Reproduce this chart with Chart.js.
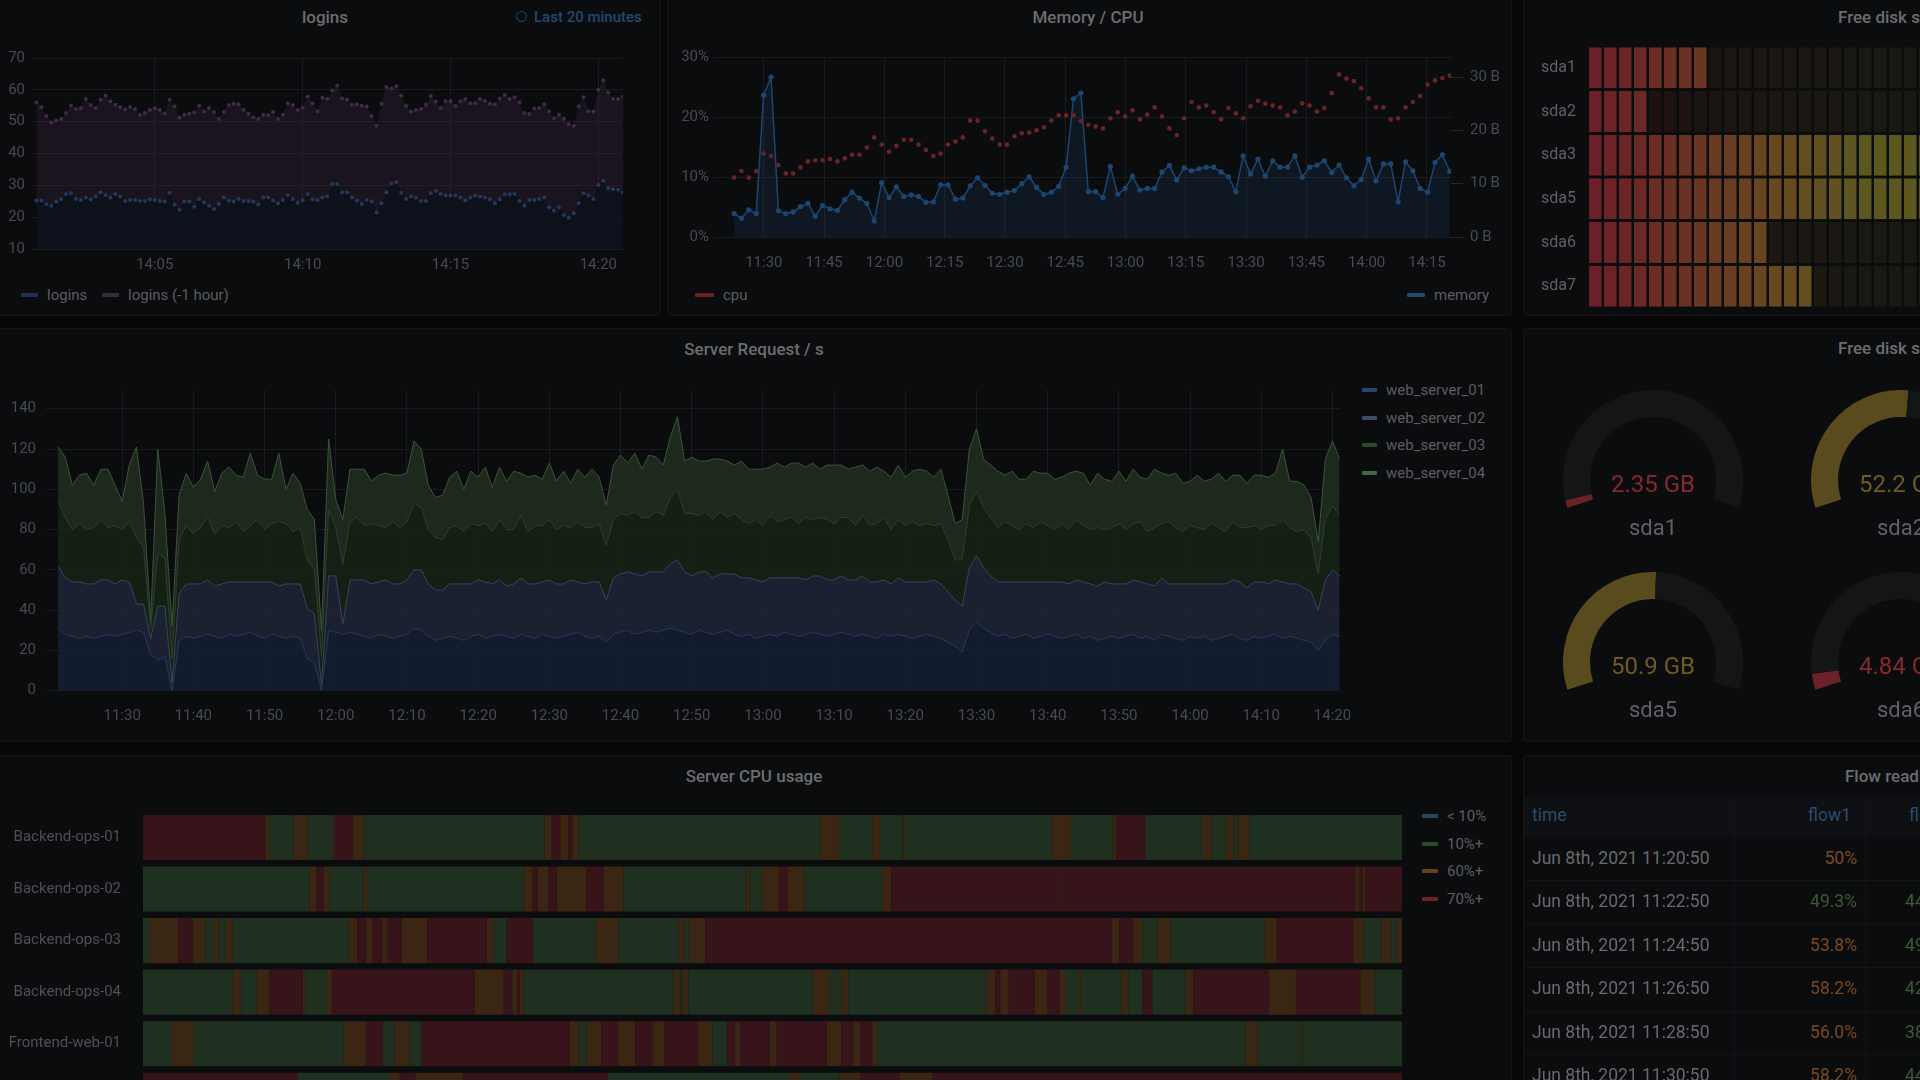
<!DOCTYPE html>
<html>
<head>
<meta charset="utf-8">
<title>Dashboard</title>
<script src="https://cdn.jsdelivr.net/npm/chart.js@4.4.1/dist/chart.umd.min.js"></script>
<style>
  html, body { margin:0; padding:0; width:1920px; height:1080px; overflow:hidden; background:#070708; font-family: Roboto, "Noto Sans", sans-serif; }
  .panel { position:absolute; background:#0b0c0e; border:1px solid #131418; border-radius:3px; box-sizing:border-box; }
  canvas { position:absolute; }
  .txt { position:absolute; white-space:nowrap; line-height:1; }
  .sw { position:absolute; height:4px; border-radius:1px; }
  .hline { position:absolute; height:1px; background:#131418; }
  .vline { position:absolute; width:1px; background:#131418; }
</style>
</head>
<body>
<script>
// ---------- logins (10 s samples from 14:01:00)
const loginsStart = 14 * 60 + 1;
const loginsStep = 10 / 60;
const logins = [
  25.2, 25.2, 24.1, 23.6, 24.9, 25.7, 27.3, 27.5, 25.7, 25.4,
  26.2, 25.6, 26.5, 27.8, 27.0, 26.2, 27.3, 26.5, 25.1, 25.4,
  25.4, 25.1, 25.1, 25.6, 25.4, 25.1, 24.9, 27.7, 24.0, 22.3,
  24.9, 24.9, 23.3, 25.7, 24.7, 23.6, 22.6, 24.1, 26.2, 25.2,
  24.9, 25.7, 25.1, 25.1, 24.9, 24.0, 26.2, 26.2, 25.2, 24.4,
  25.4, 27.0, 25.7, 24.5, 25.4, 27.3, 25.6, 25.4, 26.2, 26.5,
  30.4, 30.4, 27.8, 27.8, 26.2, 25.2, 24.1, 25.4, 24.9, 21.5,
  24.4, 27.8, 30.6, 31.0, 27.7, 25.7, 26.5, 26.1, 25.1, 25.1,
  27.5, 28.2, 27.3, 26.8, 26.8, 26.8, 26.2, 25.2, 26.2, 26.7,
  26.5, 26.2, 25.6, 24.4, 25.6, 27.2, 27.2, 27.3, 25.1, 23.6,
  25.4, 25.4, 25.7, 26.2, 23.1, 22.0, 23.1, 20.7, 19.8, 21.2,
  24.4, 27.5, 26.8, 25.7, 30.1, 31.4, 29.1, 28.8, 28.6, 27.8
];
const loginsPrevHour = [
  56.1, 54.5, 51.8, 49.7, 50.4, 50.9, 52.7, 55.1, 54.0, 54.2,
  57.1, 55.2, 54.3, 56.9, 58.2, 56.4, 55.3, 54.6, 53.8, 54.6,
  54.0, 52.1, 52.7, 53.7, 54.2, 53.7, 52.6, 56.9, 54.8, 51.2,
  52.2, 52.5, 52.9, 55.0, 53.2, 54.3, 53.0, 50.8, 53.0, 55.2,
  55.6, 55.5, 53.7, 52.5, 51.4, 50.8, 52.1, 52.1, 53.0, 50.8,
  52.2, 55.8, 55.2, 53.7, 54.4, 57.9, 55.7, 53.3, 57.5, 57.2,
  59.8, 61.4, 57.3, 56.9, 55.3, 55.5, 55.0, 54.8, 51.8, 48.7,
  55.6, 60.9, 60.4, 61.1, 58.2, 55.0, 53.2, 53.7, 54.0, 55.3,
  58.1, 56.3, 54.2, 56.4, 56.4, 54.9, 56.4, 57.1, 55.8, 55.8,
  57.1, 56.6, 55.6, 55.5, 57.3, 58.4, 57.1, 57.7, 56.1, 52.7,
  52.5, 54.1, 54.3, 55.5, 53.2, 51.1, 52.2, 50.9, 49.3, 48.7,
  54.8, 57.7, 53.3, 53.2, 60.0, 63.0, 59.2, 57.2, 57.1, 57.9
];
const loginsTicks = [845, 850, 855, 860];

// ---------- Memory / CPU
const memStart = 11 * 60 + 22.6;
const memStep = 1.836;
const cpuPct = [
  9.9, 11.0, 9.9, 11.0, 13.9, 13.5, 12.0, 10.6, 10.6, 11.6,
  12.6, 12.8, 12.8, 13.0, 12.6, 13.1, 13.7, 13.7, 14.9, 16.6,
  15.4, 14.2, 15.2, 16.2, 16.2, 15.4, 14.5, 13.5, 13.9, 15.4,
  15.9, 16.6, 19.4, 19.4, 17.6, 16.4, 15.4, 15.4, 16.8, 17.3,
  17.4, 17.8, 18.3, 19.4, 20.3, 20.3, 20.3, 19.3, 18.7, 18.4,
  18.1, 19.8, 20.8, 20.1, 21.1, 19.6, 20.4, 21.6, 20.1, 18.1,
  17.0, 19.8, 22.5, 21.6, 21.9, 20.8, 19.6, 21.5, 20.6, 19.8,
  21.8, 22.7, 22.2, 21.9, 21.6, 20.3, 20.9, 22.3, 21.9, 20.9,
  21.5, 24.0, 27.1, 26.4, 26.0, 24.8, 23.1, 21.6, 21.6, 19.6,
  19.8, 21.6, 22.5, 23.5, 25.4, 26.1, 26.5, 26.9
];
const memBytes = [
  4.4, 3.5, 5.1, 4.4, 26.6, 30.0, 4.9, 4.4, 4.7, 5.7,
  6.3, 3.9, 5.9, 5.3, 5.0, 7.0, 8.4, 7.3, 6.3, 3.0,
  10.2, 7.4, 9.4, 7.6, 7.9, 7.6, 6.5, 6.6, 9.8, 9.8,
  7.1, 7.3, 9.6, 11.1, 9.7, 8.2, 8.0, 8.4, 8.7, 10.0,
  11.3, 9.3, 8.0, 8.4, 9.5, 13.1, 25.9, 27.0, 8.5, 8.5,
  7.4, 13.2, 8.0, 9.1, 11.4, 8.8, 9.1, 9.1, 12.2, 13.4,
  10.7, 13.0, 12.4, 12.8, 13.1, 13.1, 12.2, 11.3, 8.5, 15.2,
  11.8, 14.6, 11.4, 14.3, 13.1, 13.1, 15.2, 11.2, 13.1, 13.5,
  14.3, 12.1, 13.5, 11.1, 9.6, 10.8, 14.6, 10.5, 13.7, 13.7,
  6.6, 14.1, 12.4, 9.1, 8.4, 14.0, 15.4, 12.3
];
const memTicks = [690, 705, 720, 735, 750, 765, 780, 795, 810, 825, 840, 855];
const pctTicks = [0, 10, 20, 30];
const byteTicks = [0, 10, 20, 30];

// ---------- Free disk space (bar gauge, lit cells per disk)
const diskNames = ['sda1', 'sda2', 'sda3', 'sda5', 'sda6', 'sda7'];
const diskLitCells = [8, 4, 40, 38, 12, 15];
const diskCellCount = 48;

// ---------- Server Request / s (1 min samples from 11:21)
const reqStart = 11 * 60 + 21;
const web01 = [
  31, 28, 27, 26, 27, 26, 27, 28, 27, 28, 29, 30, 29, 18, 15, 17, 0, 25, 27, 26,
  27, 28, 27, 26, 28, 27, 28, 29, 27, 26, 28, 27, 26, 27, 26, 16, 14, 0, 30, 29,
  28, 29, 28, 27, 26, 28, 27, 26, 27, 28, 31, 30, 27, 25, 26, 27, 26, 25, 27, 28,
  26, 27, 28, 27, 26, 28, 27, 26, 28, 27, 26, 27, 28, 29, 27, 26, 27, 24, 28, 29,
  30, 28, 29, 30, 29, 30, 31, 30, 29, 28, 30, 29, 28, 29, 30, 28, 27, 28, 26, 27,
  28, 27, 29, 28, 27, 28, 29, 28, 27, 28, 29, 28, 27, 28, 27, 26, 28, 27, 28, 27,
  26, 27, 28, 27, 26, 24, 22, 19, 30, 34, 31, 29, 27, 28, 26, 27, 28, 26, 27, 28,
  27, 26, 27, 28, 26, 27, 25, 26, 27, 26, 27, 28, 26, 27, 25, 28, 27, 26, 25, 27,
  26, 27, 25, 26, 27, 28, 26, 25, 27, 26, 27, 28, 26, 27, 26, 25, 24, 20, 25, 28,
  27
];
const web02 = [
  31, 28, 27, 28, 26, 27, 28, 27, 26, 27, 25, 13, 14, 8, 27, 25, 4, 23, 26, 27,
  26, 27, 25, 27, 26, 27, 26, 25, 27, 28, 26, 25, 27, 26, 27, 25, 24, 3, 27, 28,
  5, 26, 27, 28, 27, 26, 28, 27, 26, 27, 29, 30, 26, 25, 24, 26, 27, 28, 26, 27,
  28, 26, 27, 25, 27, 28, 26, 27, 26, 28, 27, 26, 27, 25, 26, 28, 27, 21, 28, 29,
  29, 30, 28, 29, 30, 29, 32, 35, 30, 29, 29, 30, 28, 29, 28, 30, 29, 28, 29, 27,
  28, 29, 27, 28, 29, 27, 28, 29, 28, 27, 28, 27, 28, 29, 27, 28, 27, 26, 28, 27,
  28, 27, 26, 28, 27, 25, 23, 23, 31, 33, 30, 28, 27, 26, 28, 27, 26, 28, 27, 26,
  27, 28, 26, 27, 28, 26, 27, 28, 26, 27, 26, 27, 28, 26, 27, 28, 26, 27, 28, 26,
  27, 26, 28, 27, 26, 27, 28, 26, 27, 28, 26, 27, 28, 26, 27, 26, 25, 20, 30, 32,
  30
];
const web03 = [
  32, 30, 26, 29, 27, 28, 30, 26, 29, 25, 30, 33, 28, 5, 26, 24, 12, 27, 29, 25,
  28, 31, 26, 29, 27, 30, 25, 28, 31, 26, 29, 32, 30, 26, 28, 24, 22, 14, 33, 24,
  30, 29, 31, 27, 30, 28, 26, 31, 28, 29, 33, 31, 27, 26, 25, 28, 29, 26, 30, 27,
  29, 26, 30, 28, 27, 31, 26, 29, 28, 30, 27, 29, 26, 30, 28, 27, 29, 27, 29, 30,
  28, 31, 29, 27, 30, 28, 33, 35, 29, 31, 28, 30, 29, 31, 28, 30, 29, 27, 30, 28,
  31, 28, 29, 30, 27, 31, 28, 29, 30, 28, 29, 31, 27, 30, 28, 29, 31, 27, 29, 28,
  30, 28, 29, 27, 30, 26, 20, 23, 31, 32, 30, 29, 27, 30, 28, 26, 29, 27, 30, 28,
  26, 29, 27, 30, 28, 27, 29, 26, 28, 30, 27, 28, 30, 26, 29, 27, 31, 28, 26, 29,
  28, 27, 30, 28, 26, 29, 27, 30, 28, 26, 29, 27, 31, 28, 26, 29, 27, 18, 30, 32,
  30
];
const web04 = [
  27, 30, 22, 24, 28, 21, 25, 29, 20, 14, 28, 45, 22, 4, 52, 22, 16, 22, 26, 23,
  24, 28, 21, 26, 30, 23, 27, 36, 22, 25, 22, 34, 17, 29, 22, 25, 25, 13, 35, 14,
  22, 26, 24, 28, 21, 25, 27, 23, 26, 24, 31, 29, 22, 20, 22, 25, 27, 21, 26, 24,
  28, 22, 26, 24, 29, 21, 27, 25, 23, 28, 24, 27, 22, 26, 25, 29, 23, 20, 27, 29,
  26, 29, 24, 31, 27, 25, 30, 36, 26, 28, 27, 25, 30, 26, 28, 24, 29, 27, 25, 28,
  24, 29, 26, 27, 30, 25, 28, 24, 27, 29, 26, 24, 29, 25, 27, 28, 23, 26, 27, 24,
  25, 28, 26, 24, 27, 22, 18, 20, 28, 31, 24, 26, 28, 23, 27, 25, 22, 28, 24, 26,
  25, 23, 28, 24, 26, 22, 27, 25, 23, 26, 24, 27, 22, 26, 29, 25, 23, 27, 24, 22,
  26, 24, 22, 27, 25, 23, 26, 22, 25, 27, 24, 26, 35, 23, 25, 22, 20, 16, 30, 32,
  28
];
const reqSeriesNames = ['web_server_01', 'web_server_02', 'web_server_03', 'web_server_04'];
const reqTicks = [690, 700, 710, 720, 730, 740, 750, 760, 770, 780, 790, 800, 810, 820, 830, 840, 850, 860];
const reqYTicks = [0, 20, 40, 60, 80, 100, 120, 140];

// ---------- gauges
const gaugeNames = ['sda1', 'sda2', 'sda5', 'sda6'];
const gaugeValues = [2.35, 52.2, 50.9, 4.84];
const gaugeMax = 100;

// ---------- Server CPU usage (state segments: [start minute, state])
const cpuHosts = ['Backend-ops-01', 'Backend-ops-02', 'Backend-ops-03', 'Backend-ops-04', 'Frontend-web-01', 'Frontend-web-02'];
const cpuSegments = [
  [[0,'r'],[17.3,'o'],[17.9,'g'],[21.3,'o'],[23.3,'g'],[26.8,'o'],[27.1,'r'],[29.7,'o'],[31.3,'g'],[56.8,'o'],[57.8,'r'],[59.0,'o'],[60.1,'r'],[60.7,'o'],[61.6,'g'],[95.7,'o'],[98.4,'g'],[103.1,'o'],[104.2,'g'],[107.2,'o'],[107.5,'g'],[128.5,'o'],[131.2,'g'],[137.1,'o'],[137.6,'r'],[141.7,'g'],[149.7,'o'],[151.1,'g'],[153.1,'o'],[154.2,'g'],[154.7,'o'],[156.4,'g']],
  [[0,'g'],[23.5,'o'],[24.5,'r'],[25.5,'o'],[26.4,'g'],[31.2,'o'],[31.8,'g'],[53.8,'o'],[55.1,'r'],[55.8,'o'],[57.3,'r'],[58.5,'o'],[62.7,'r'],[65.1,'o'],[67.9,'g'],[85.3,'o'],[85.8,'g'],[87.5,'o'],[89.9,'r'],[91.2,'o'],[93.5,'g'],[104.5,'o'],[105.8,'r'],[129.4,'o'],[129.6,'r'],[171.4,'o'],[172.0,'r'],[172.4,'o'],[172.8,'r']],
  [[0,'g'],[1.0,'o'],[5.0,'r'],[7.0,'o'],[8.8,'g'],[9.9,'o'],[10.7,'g'],[11.7,'o'],[12.7,'g'],[29.1,'o'],[30.3,'r'],[31.5,'o'],[32.4,'r'],[33.8,'o'],[34.6,'r'],[36.6,'o'],[40.2,'r'],[48.6,'o'],[49.6,'g'],[51.4,'r'],[55.1,'g'],[64.0,'o'],[67.2,'g'],[75.7,'o'],[76.6,'g'],[77.3,'o'],[79.5,'r'],[136.9,'o'],[138.0,'r'],[140.0,'o'],[141.3,'g'],[143.4,'o'],[145.3,'g'],[158.6,'o'],[160.3,'r'],[171.1,'o'],[172.6,'g'],[175.1,'o'],[176.4,'g'],[177.2,'o']],
  [[0,'g'],[12.7,'o'],[13.9,'g'],[16.1,'o'],[17.8,'r'],[22.6,'o'],[23.0,'g'],[26.0,'o'],[26.7,'r'],[46.9,'o'],[51.0,'r'],[52.2,'o'],[52.9,'r'],[53.3,'o'],[53.8,'g'],[75.0,'o'],[76.0,'g'],[76.3,'o'],[77.1,'g'],[94.7,'o'],[97.0,'g'],[98.7,'o'],[99.7,'g'],[119.3,'o'],[120.5,'r'],[121.2,'o'],[122.4,'r'],[126.1,'o'],[127.8,'r'],[129.6,'o'],[130.5,'g'],[132.2,'o'],[132.6,'g'],[138.3,'o'],[139.3,'g'],[141.3,'r'],[142.7,'g'],[147.4,'o'],[148.5,'r'],[159.2,'o'],[163.0,'r'],[172.1,'o'],[174.1,'g']],
  [[0,'g'],[4.1,'o'],[7.2,'g'],[28.4,'o'],[31.5,'r'],[33.9,'g'],[35.6,'o'],[37.7,'g'],[39.4,'r'],[60.3,'o'],[61.6,'g'],[62.7,'o'],[64.8,'r'],[67.2,'o'],[69.6,'r'],[72.0,'o'],[73.7,'r'],[78.5,'o'],[80.5,'g'],[82.6,'r'],[83.7,'o'],[84.4,'r'],[88.6,'o'],[89.6,'r'],[96.7,'o'],[98.7,'r'],[100.4,'o'],[101.4,'r'],[103.1,'o'],[103.8,'g'],[155.9,'o'],[157.6,'g'],[163.6,'o'],[163.9,'g']],
  [[0,'r'],[21.9,'g'],[34.9,'o'],[36.3,'r'],[38.5,'o'],[45.2,'r'],[65.7,'g'],[91.6,'o'],[92.9,'g'],[98.5,'o'],[101.4,'r'],[107.0,'o'],[111.6,'r']]
];
const cpuSpan = 178;
const cpuLegend = ['< 10%', '10%+', '60%+', '70%+'];

// ---------- Flow readings table
const flowTimes = ['Jun 8th, 2021 11:20:50', 'Jun 8th, 2021 11:22:50', 'Jun 8th, 2021 11:24:50',
                   'Jun 8th, 2021 11:26:50', 'Jun 8th, 2021 11:28:50', 'Jun 8th, 2021 11:30:50'];
const flow1 = ['50', '49.3', '53.8', '58.2', '56.0', '58.2'];
const flow2 = ['50', '44.7', '49.1', '42.3', '38.6', '44.2'];

// ================= drawing =================
const PANEL_BG = '#0b0c0e';
const GRID = '#1a1b1e';

Chart.defaults.font.family = 'Roboto';
Chart.defaults.font.size = 15;
Chart.defaults.color = '#474a4e';
Chart.defaults.animation = false;
Chart.defaults.responsive = false;
Chart.defaults.plugins.legend.display = false;
Chart.defaults.plugins.tooltip.enabled = false;

function hhmm(m) {
  const t = Math.round(m);
  return String(Math.floor(t / 60)).padStart(2, '0') + ':' + String(t % 60).padStart(2, '0');
}
function series(start, step, values) {
  return values.map((v, i) => ({ x: start + i * step, y: v }));
}
function fixedTicks(list) {
  return s => { s.ticks = list.map(v => ({ value: v })); };
}
// fix axis thickness and drop the label overhang padding so the plot area stays put
function xFit(h) { return s => { s.height = h; s.paddingLeft = 0; s.paddingRight = 0; }; }
function yFit(w) { return s => { s.width = w; s.paddingTop = 0; s.paddingBottom = 0; }; }

function mkCanvas(left, top, w, h) {
  const c = document.createElement('canvas');
  c.width = w; c.height = h;
  c.style.left = left + 'px'; c.style.top = top + 'px';
  document.body.appendChild(c);
  return c;
}
function box(cls, left, top, w, h, bg) {
  const d = document.createElement('div');
  d.className = cls;
  d.style.left = left + 'px'; d.style.top = top + 'px';
  if (w != null) d.style.width = w + 'px';
  if (h != null) d.style.height = h + 'px';
  if (bg) d.style.background = bg;
  document.body.appendChild(d);
  return d;
}
// text anchored at (x, y) vertical middle; align left | center | right
function text(str, x, y, size, color, align, weight) {
  const d = box('txt', x, y);
  d.textContent = str;
  d.style.fontSize = size + 'px';
  d.style.color = color;
  if (weight) d.style.fontWeight = weight;
  const tx = align === 'center' ? '-50%' : align === 'right' ? '-100%' : '0';
  d.style.transform = 'translate(' + tx + ',-50%)';
  return d;
}
function legendItem(x, y, color, label, swW) {
  box('sw', x, y - 2, swW, 4, color);
  text(label, x + swW + 9, y, 15, '#5b5d61', 'left');
}

// panels
box('panel', -4, -4, 665, 320);
box('panel', 667, -4, 845, 320);
box('panel', 1523, -4, 420, 320);
box('panel', -4, 328, 1516, 414);
box('panel', 1523, 328, 420, 414);
box('panel', -4, 755, 1516, 400);
box('panel', 1523, 755, 420, 400);

// titles
const TITLE = '#6b6d71';
text('logins', 325, 17, 17, TITLE, 'center', 500);
text('Memory / CPU', 1088, 17, 17, TITLE, 'center', 500);
text('Free disk space', 1838, 17, 17, TITLE, 'left', 500);
text('Server Request / s', 754, 349, 17, TITLE, 'center', 500);
text('Free disk space', 1838, 348, 17, TITLE, 'left', 500);
text('Server CPU usage', 754, 776, 17, TITLE, 'center', 500);
text('Flow readings', 1845, 776, 17, TITLE, 'left', 500);

// time range badge
const clock = box('txt', 516, 11, 9, 9);
clock.style.border = '1.5px solid #1f4a73';
clock.style.borderRadius = '50%';
text('Last 20 minutes', 534, 17, 15, '#1f4a73', 'left', 500);

// ---- logins chart
new Chart(mkCanvas(0, 40, 640, 240), {
  type: 'line',
  data: { datasets: [
    { label: 'logins', data: series(loginsStart, loginsStep, logins),
      borderColor: 'rgba(0,0,0,0)', borderWidth: 1, pointRadius: 2, pointBorderWidth: 0,
      pointBackgroundColor: '#25385a', fill: 'start', backgroundColor: 'rgba(10,16,28,0.75)' },
    { label: 'logins (-1 hour)', data: series(loginsStart, loginsStep, loginsPrevHour),
      borderColor: 'rgba(0,0,0,0)', borderWidth: 1, pointRadius: 2, pointBorderWidth: 0,
      pointBackgroundColor: '#3f2b49', fill: 'start', backgroundColor: 'rgba(64,39,74,0.3)' }
  ] },
  options: {
    layout: { padding: { top: 18, right: 17, left: 0, bottom: 0 } },
    scales: {
      x: { type: 'linear', min: 840 + 50 / 60, max: 860 + 50 / 60,
           afterBuildTicks: fixedTicks(loginsTicks), afterFit: xFit(31),
           grid: { color: GRID, drawTicks: false }, border: { display: false },
           ticks: { padding: 7, autoSkip: false, maxRotation: 0, callback: v => hhmm(v) } },
      y: { min: 10, max: 70, afterFit: yFit(31.6),
           ticks: { stepSize: 10, padding: 6.6 },
           grid: { color: GRID, drawTicks: false }, border: { display: false } }
    }
  }
});
legendItem(21, 295, '#1f3150', 'logins', 17);
legendItem(102, 295, '#3a2843', 'logins (-1 hour)', 17);

// ---- memory / cpu chart
new Chart(mkCanvas(667, 40, 845, 240), {
  type: 'line',
  data: { datasets: [
    { label: 'cpu', yAxisID: 'y', data: series(memStart, memStep, cpuPct), showLine: false,
      pointRadius: 2.3, pointBorderWidth: 0, pointBackgroundColor: '#6b2425' },
    { label: 'memory', yAxisID: 'y1', data: series(memStart, memStep, memBytes),
      borderColor: '#1c4670', borderWidth: 1.5, pointRadius: 2.6, pointBorderWidth: 0,
      pointBackgroundColor: '#1c4670', fill: 'origin', backgroundColor: 'rgba(30,80,130,0.18)' }
  ] },
  options: {
    layout: { padding: { top: 17, right: 0, left: 0, bottom: 0 } },
    scales: {
      x: { type: 'linear', min: 677.6, max: 861,
           afterBuildTicks: fixedTicks(memTicks), afterFit: xFit(43),
           grid: { color: GRID, drawTicks: false }, border: { display: false },
           ticks: { padding: 17, autoSkip: false, maxRotation: 0, callback: v => hhmm(v) } },
      y: { position: 'left', min: 0, max: 30, afterBuildTicks: fixedTicks(pctTicks),
           afterFit: yFit(47),
           ticks: { padding: 5, callback: v => v + '%' },
           grid: { color: GRID, drawTicks: false }, border: { display: false } },
      y1: { position: 'right', min: 0, max: 33.75, afterBuildTicks: fixedTicks(byteTicks),
            afterFit: yFit(61),
            ticks: { padding: 7, callback: v => v + ' B' },
            grid: { drawOnChartArea: false, drawTicks: true, tickLength: 12, color: '#25272b' },
            border: { display: false } }
    }
  }
});
legendItem(695, 295, '#6a2222', 'cpu', 19);
legendItem(1407, 295, '#1b4a73', 'memory', 18);

// ---- bar gauge (LED cells)
function mix(a, b, t) { return a.map((v, i) => Math.round(v * (1 - t) + b[i] * t)); }
const ledStops = [[0, [108, 31, 40]], [6, [106, 50, 34]], [12, [104, 72, 31]], [18, [92, 86, 31]], [48, [88, 88, 32]]];
function ledColor(i) {
  for (let k = 0; k < ledStops.length - 1; k++) {
    const [a, ca] = ledStops[k], [b, cb] = ledStops[k + 1];
    if (i >= a && i <= b) return mix(ca, cb, (i - a) / (b - a));
  }
  return ledStops[ledStops.length - 1][1];
}
const bgRGB = [11, 12, 14];
const ledSets = [];
for (let c = 0; c < diskCellCount; c++) {
  const lit = ledColor(c), dim = mix(lit, bgRGB, 0.82);
  ledSets.push({
    data: diskNames.map(() => 1),
    backgroundColor: diskLitCells.map(n => c < n ? 'rgb(' + lit + ')' : 'rgb(' + dim + ')'),
    borderColor: PANEL_BG, borderWidth: { left: 0, right: 2.5, top: 0, bottom: 0 },
    borderSkipped: false, barPercentage: 0.94, categoryPercentage: 1
  });
}
new Chart(mkCanvas(1523, 40, 786, 268), {
  type: 'bar',
  data: { labels: diskNames, datasets: ledSets },
  options: {
    indexAxis: 'y',
    layout: { padding: { top: 6, bottom: 0, left: 0, right: 0 } },
    scales: {
      x: { stacked: true, min: 0, max: diskCellCount, display: false },
      y: { stacked: true, afterFit: yFit(66),
           ticks: { padding: 13, color: '#5e6064', font: { size: 16 } },
           grid: { display: false, drawTicks: false }, border: { display: false } }
    }
  }
});

// ---- Server Request / s (stacked)
const reqFill = ['rgba(20,30,49,0.92)', 'rgba(29,36,51,0.92)', 'rgba(23,35,22,0.92)', 'rgba(33,44,31,0.92)'];
const reqLine = ['#273b5d', '#37455d', '#2a4229', '#3b5439'];
const reqData = [web01, web02, web03, web04];
new Chart(mkCanvas(0, 370, 1350, 360), {
  type: 'line',
  data: { datasets: reqData.map((arr, i) => ({
    label: reqSeriesNames[i], data: series(reqStart, 1, arr),
    borderColor: reqLine[i], borderWidth: 1, pointRadius: 0,
    fill: i === 0 ? 'origin' : '-1', backgroundColor: reqFill[i]
  })) },
  options: {
    layout: { padding: { top: 20, right: 9, left: 0, bottom: 0 } },
    scales: {
      x: { type: 'linear', min: 679.3, max: 861.2,
           afterBuildTicks: fixedTicks(reqTicks), afterFit: xFit(39.3),
           grid: { color: GRID, drawTicks: false }, border: { display: false },
           ticks: { padding: 17, autoSkip: false, maxRotation: 0, callback: v => hhmm(v) } },
      y: { stacked: true, min: 0, max: 149.3, afterBuildTicks: fixedTicks(reqYTicks),
           afterFit: yFit(46), ticks: { padding: 10 },
           grid: { color: GRID, drawTicks: false }, border: { display: false } }
    }
  }
});
const reqSwatch = ['#2d4470', '#3d4c66', '#2c4a2b', '#456642'];
reqSeriesNames.forEach((n, i) => legendItem(1362, 390 + i * 27.5, reqSwatch[i], n, 15));

// ---- gauges
const gaugeCenters = [[1653, 480], [1901, 480], [1653, 662], [1901, 662]];
gaugeNames.forEach((name, i) => {
  const [cx, cy] = gaugeCenters[i];
  const v = gaugeValues[i];
  const low = v < 10;
  new Chart(mkCanvas(cx - 90, cy - 90, 180, 180), {
    type: 'doughnut',
    data: { datasets: [{
      data: [v, gaugeMax - v, gaugeMax * 144 / 216],
      backgroundColor: [low ? '#6c2128' : '#5a4b1e', '#141517', 'rgba(0,0,0,0)'],
      borderWidth: 0
    }] },
    options: { cutout: '70%', rotation: -108 }
  });
  text(v + ' GB', cx, cy + 4, 24, low ? '#842a2f' : '#6e5a23', 'center');
  text(name, cx, cy + 48, 22, '#5f6165', 'center');
});

// ---- Server CPU usage (state timeline)
const stateColor = { g: '#1f3020', o: '#3b2614', r: '#37141a' };
const stateSets = ['g', 'o', 'r'].map(st => ({
  state: st, data: [], backgroundColor: stateColor[st], borderWidth: 0,
  barPercentage: 0.874, categoryPercentage: 1, grouped: false
}));
cpuSegments.forEach((segs, hi) => {
  segs.forEach((s, k) => {
    const end = k + 1 < segs.length ? segs[k + 1][0] : cpuSpan;
    stateSets.find(d => d.state === s[1]).data.push({ y: cpuHosts[hi], x: [s[0], end] });
  });
});
new Chart(mkCanvas(0, 800, 1402, 321), {
  type: 'bar',
  data: { labels: cpuHosts, datasets: stateSets },
  options: {
    indexAxis: 'y',
    layout: { padding: { top: 11.75, bottom: 0, left: 0, right: 0 } },
    scales: {
      x: { min: 0, max: cpuSpan, display: false },
      y: { afterFit: yFit(143), ticks: { padding: 22, color: '#4e5054' },
           grid: { display: false, drawTicks: false }, border: { display: false } }
    }
  }
});
const cpuSwatch = ['#2c4367', '#2e4a2c', '#6a421a', '#6a2128'];
cpuLegend.forEach((n, i) => legendItem(1422, 816 + i * 27.5, cpuSwatch[i], n, 16));

// ---- Flow readings table
box('txt', 1524, 796, 420, 41, '#0f1013');
text('time', 1532, 816, 17.5, '#2a4b70', 'left');
text('flow1', 1851, 816, 17.5, '#2a4b70', 'right');
text('flow2', 1952, 816, 17.5, '#2a4b70', 'right');
box('vline', 1734, 796, null, 284);
box('vline', 1865, 796, null, 284);
const flowColor = v => parseFloat(v) >= 50 ? '#7a4a1f' : '#3d5b32';
flowTimes.forEach((t, k) => {
  const top = 837 + k * 43.5;
  const cy = top + 21.75;
  text(t, 1532, cy, 17.5, '#67696d', 'left');
  text(flow1[k] + '%', 1857, cy, 17.5, flowColor(flow1[k]), 'right');
  text(flow2[k] + '%', 1952, cy, 17.5, flowColor(flow2[k]), 'right');
  box('hline', 1524, top + 43, 420, null);
});
</script>
</body>
</html>
